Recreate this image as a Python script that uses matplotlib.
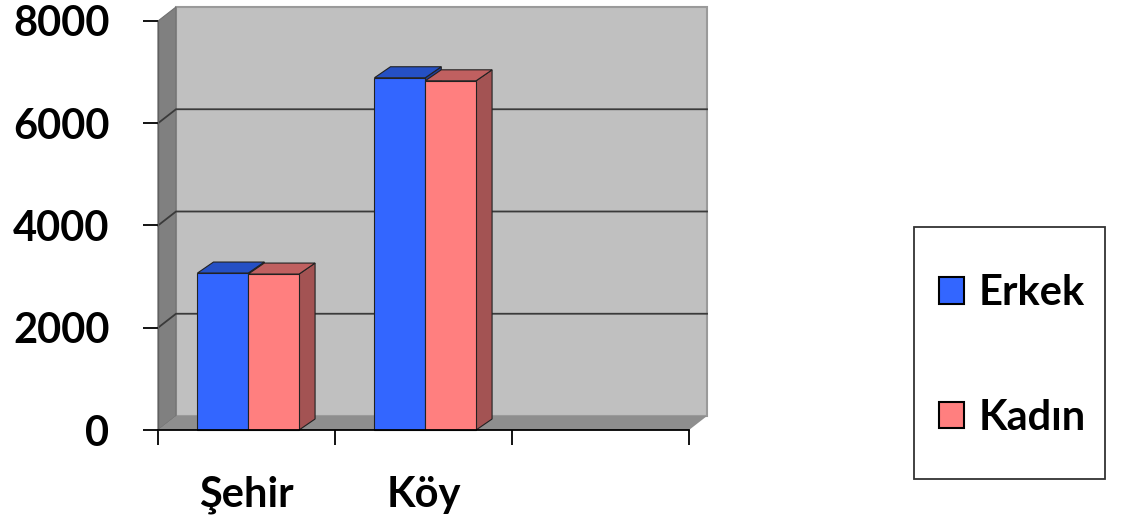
import matplotlib
matplotlib.use("Agg")
import matplotlib.pyplot as plt
from matplotlib.patches import Polygon, Rectangle, Patch

# ---- data ----
categories = ["Şehir", "Köy", ""]
erkek = [3070, 6890]
kadin = [3050, 6830]
series_names = ["Erkek", "Kadın"]
y_ticks = [0, 2000, 4000, 6000, 8000]

# ---- style ----
plt.rcParams['font.family'] = ['Lato', 'DejaVu Sans']
plt.rcParams['font.weight'] = 'bold'
FS = 30
W, H = 1121, 526
fig = plt.figure(figsize=(W / 100, H / 100), dpi=100)
ax = fig.add_axes([158 / W, (H - 430) / H, 531 / W, 409 / H])
ncat = len(categories)
ymax = 8000
ax.set_xlim(0, ncat)
ax.set_ylim(0, ymax)

WDX, WDY = 18 / 177 * 1.0, 14 / 409 * ymax      # wall depth
BDX, BDY = 16 / 177 * 1.0, 11 / 409 * ymax      # bar depth

wall_c = '#c0c0c0'
side_c = '#808080'
floor_c = '#8e8e8e'
grid_c = '#3a3a3a'

def poly(pts, fc, ec='none', lw=0.8, z=1):
    p = Polygon(pts, closed=True, facecolor=fc, edgecolor=ec, linewidth=lw,
                zorder=z, clip_on=False, joinstyle='miter')
    ax.add_patch(p)

# back wall
poly([(WDX, WDY), (ncat + WDX, WDY), (ncat + WDX, ymax + WDY), (WDX, ymax + WDY)],
     wall_c, ec='#9a9a9a', lw=1.5, z=0.5)
# side wall
poly([(0, 0), (WDX, WDY), (WDX, ymax + WDY), (0, ymax)], side_c, ec='#707070', lw=0.8, z=0.6)
# floor
poly([(0, 0), (ncat, 0), (ncat + WDX, WDY), (WDX, WDY)], floor_c, ec='none', z=0.6)

# gridlines
for t in y_ticks[1:-1]:
    ax.plot([0, WDX, ncat + WDX], [t, t + WDY, t + WDY], color=grid_c, lw=1.3,
            zorder=0.8, clip_on=False, solid_joinstyle='miter')

# bars
bw = 0.287
blue_f, blue_t = '#3366ff', '#2550c4'
pink_f, pink_t, pink_s = '#ff7f7f', '#c06060', '#a35353'
cols = [(blue_f, blue_t, '#1f3f9e'), (pink_f, pink_t, pink_s)]
for i in range(len(erkek)):
    c0 = i + 0.51 - bw
    for j, vals in enumerate([erkek, kadin]):
        x = c0 + j * bw
        h = vals[i]
        f, t, s = cols[j]
        z = 2 + j
        poly([(x + bw, 0), (x + bw + BDX, BDY), (x + bw + BDX, h + BDY), (x + bw, h)], s, ec='#222222', lw=0.8, z=z)
        poly([(x, h), (x + bw, h), (x + bw + BDX, h + BDY), (x + BDX, h + BDY)], t, ec='#222222', lw=0.8, z=z)
        poly([(x, 0), (x + bw, 0), (x + bw, h), (x, h)], f, ec='#222222', lw=0.8, z=z)

# axes styling
for sp in ['top', 'right']:
    ax.spines[sp].set_visible(False)
ax.spines['left'].set_color('#606060')
ax.spines['left'].set_linewidth(1.0)
ax.spines['bottom'].set_color('black')
ax.spines['bottom'].set_linewidth(1.3)
ax.spines['bottom'].set_zorder(5)
ax.patch.set_visible(False)

ax.set_yticks(y_ticks)
ax.set_yticklabels([str(v) for v in y_ticks], fontsize=FS, fontweight='bold')
ax.tick_params(axis='y', length=11, width=1.3, pad=24, color='black')

ax.set_xticks(range(ncat + 1))
ax.set_xticklabels([])
ax.tick_params(axis='x', which='major', length=11, width=1.3, color='black')
ax.set_xticks([i + 0.5 for i in range(ncat)], minor=True)
ax.set_xticklabels(categories, minor=True, fontsize=FS, fontweight='bold')
ax.tick_params(axis='x', which='minor', length=0, pad=33)

# legend
fig.add_artist(Rectangle((914 / W, 1 - 479 / H), 191 / W, 252 / H, transform=fig.transFigure,
                         facecolor='white', edgecolor='#333333', linewidth=1.3))
handles = [Patch(facecolor=blue_f, edgecolor='black', linewidth=1.5),
           Patch(facecolor=pink_f, edgecolor='black', linewidth=1.5)]
fig.legend(handles, series_names, loc='upper left', bbox_to_anchor=(939 / W, 1 - 274 / H),
           frameon=False, borderpad=0, borderaxespad=0, handlelength=0.6, handleheight=0.6,
           handletextpad=0.36, labelspacing=2.08,
           prop={'size': FS, 'weight': 'bold'})

fig.savefig('out.png', dpi=100)
